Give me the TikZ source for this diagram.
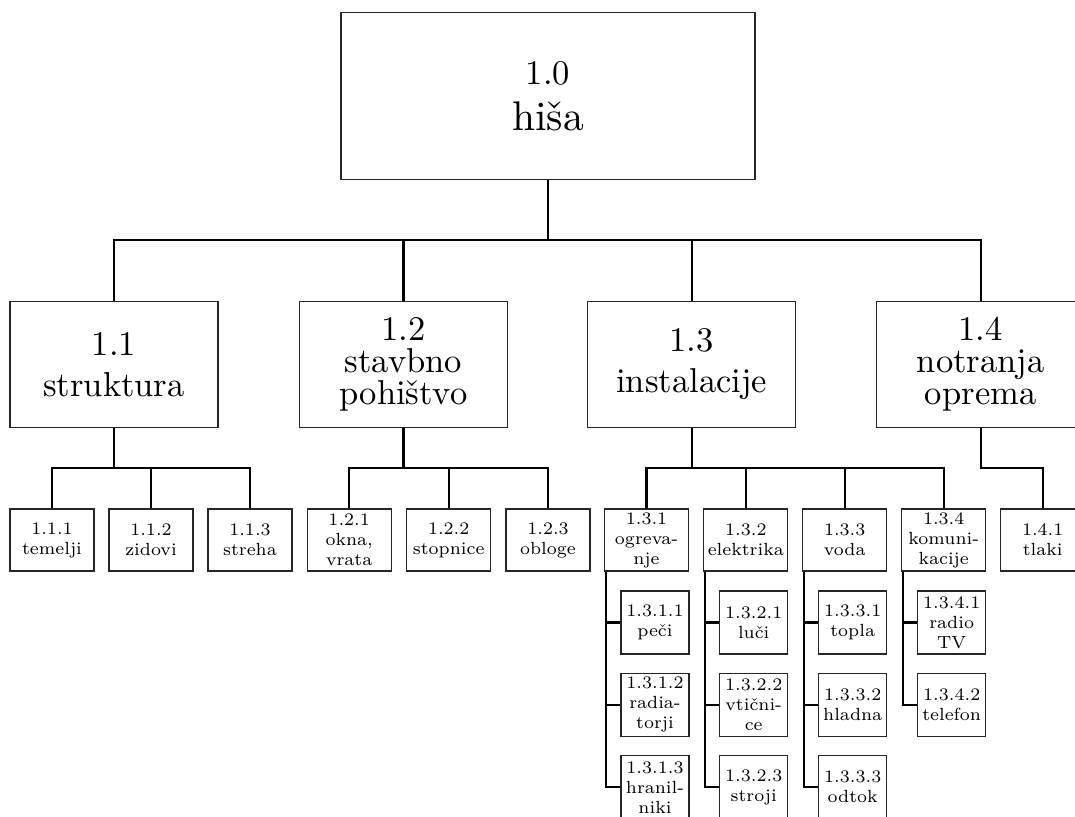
\documentclass[tikz,border=0pt]{standalone}
% fonts: optical sizes of Latin Modern loaded at fixed sizes
\font\smallrm="[lmroman7-regular.otf]" at 8.8pt
\font\bigrm="[lmroman10-regular.otf]" at 17.28pt
\font\hugerm="[lmroman10-regular.otf]" at 20.74pt
\tikzset{
  box/.style={draw=black!85, line width=0.55pt, inner sep=0pt, align=center},
  topbox/.style={box, minimum width=207pt, minimum height=83.3pt, font={\bigrm\baselineskip=22.85pt}},
  lonetwo/.style={box, minimum width=104pt, minimum height=62.8pt, font={\bigrm\baselineskip=20.5pt}},
  lonethree/.style={box, minimum width=104pt, minimum height=62.8pt, font={\bigrm\baselineskip=16pt}},
  ltwo/.style={box, minimum width=42pt, minimum height=31pt, font={\smallrm\baselineskip=10pt}},
  lthree/.style={box, minimum width=34pt, minimum height=31.5pt, font={\smallrm\baselineskip=10pt}},
  conn/.style={line width=1.1pt, black}
}
\begin{document}
\begin{tikzpicture}[x=0.5pt, y=-0.5pt]
\useasboundingbox (0,0) rectangle (1075,816);
\clip (0,0) rectangle (1075,816);

% bus levels
\coordinate (b1) at (0,240);
\coordinate (b2) at (0,468);

% root
\node[topbox] (n10) at (548,96) {1.0\\{\hugerm hiša}};

% first level
\node[lonetwo]   (n11) at (114,364.5)   {1.1\\struktura};
\node[lonethree] (n12) at (403.5,364.5) {1.2\\stavbno\\pohištvo};
\node[lonetwo]   (n13) at (691.7,364.5) {1.3\\instalacije};
\node[lonethree] (n14) at (980.7,364.5) {1.4\\notranja\\oprema};

% second level
\node[ltwo] (n111) at (52,540)    {1.1.1\\temelji};
\node[ltwo] (n112) at (151,540)   {1.1.2\\zidovi};
\node[ltwo] (n113) at (250,540)   {1.1.3\\streha};
\node[ltwo] (n121) at (349.2,540) {1.2.1\\okna,\\vrata};
\node[ltwo] (n122) at (448.7,540) {1.2.2\\stopnice};
\node[ltwo] (n123) at (548,540)   {1.2.3\\obloge};
\node[ltwo] (n131) at (646.5,540) {1.3.1\\ogreva-\\nje};
\node[ltwo] (n132) at (745.8,540) {1.3.2\\elektrika};
\node[ltwo] (n133) at (844.7,540) {1.3.3\\voda};
\node[ltwo] (n134) at (943.7,540) {1.3.4\\komuni-\\kacije};
\node[ltwo] (n141) at (1042.7,540) {1.4.1\\tlaki};

% third level
\node[lthree] (n1311) at (655,622.5)   {1.3.1.1\\peči};
\node[lthree] (n1312) at (655,704.7)   {1.3.1.2\\radia-\\torji};
\node[lthree] (n1313) at (655,787.2)   {1.3.1.3\\hranil-\\niki};
\node[lthree] (n1321) at (753.7,622.5) {1.3.2.1\\luči};
\node[lthree] (n1322) at (753.7,704.7) {1.3.2.2\\vtični-\\ce};
\node[lthree] (n1323) at (753.7,787.2) {1.3.2.3\\stroji};
\node[lthree] (n1331) at (852.7,622.5) {1.3.3.1\\topla};
\node[lthree] (n1332) at (852.7,704.7) {1.3.3.2\\hladna};
\node[lthree] (n1333) at (852.7,787.2) {1.3.3.3\\odtok};
\node[lthree] (n1341) at (951.7,622.5) {1.3.4.1\\radio\\TV};
\node[lthree] (n1342) at (951.7,704.7) {1.3.4.2\\telefon};

% root to first level
\draw[conn] (n10.south) -- (n10.south |- b1);
\draw[conn] (n11.north) |- (n14.north |- b1) -- (n14.north);
\draw[conn] (n12.north) -- (n12.north |- b1);
\draw[conn] (n13.north) -- (n13.north |- b1);

% first level to second level
\draw[conn] (n11.south) -- (n11.south |- b2);
\draw[conn] (n111.north) |- (n113.north |- b2) -- (n113.north);
\draw[conn] (n112.north) -- (n112.north |- b2);

\draw[conn] (n12.south) -- (n12.south |- b2);
\draw[conn] (n121.north) |- (n123.north |- b2) -- (n123.north);
\draw[conn] (n122.north) -- (n122.north |- b2);

\draw[conn] (n13.south) -- (n13.south |- b2);
\draw[conn] (n131.north) |- (n134.north |- b2) -- (n134.north);
\draw[conn] (n132.north) -- (n132.north |- b2);
\draw[conn] (n133.north) -- (n133.north |- b2);

\draw[conn] (n14.south) |- (n141.north |- b2) -- (n141.north);

% second level to third level
\foreach \p/\c in {n131/n1311, n131/n1312, n131/n1313,
                   n132/n1321, n132/n1322, n132/n1323,
                   n133/n1331, n133/n1332, n133/n1333,
                   n134/n1341, n134/n1342}
  \draw[conn] ([xshift=0.85pt]\p.south west) |- (\c.west);
\end{tikzpicture}
\end{document}
